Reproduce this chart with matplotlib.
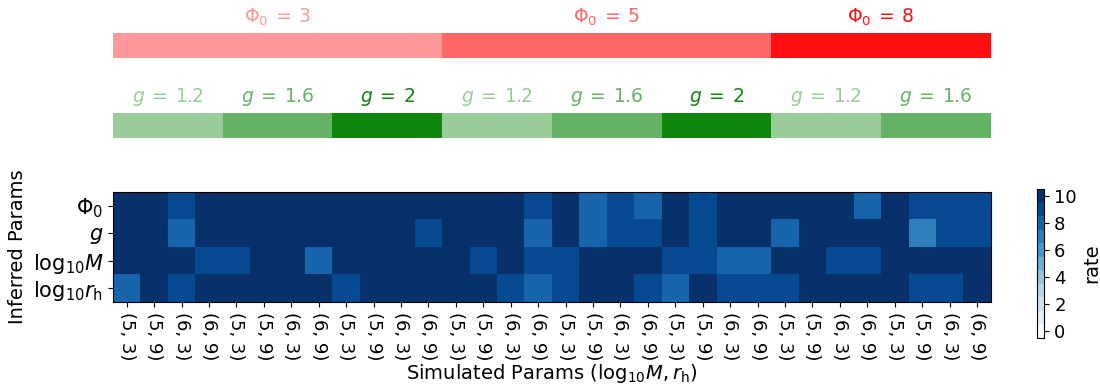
import numpy as np
import matplotlib.pyplot as plt

# parameter grid
phi0_vals = [3, 5, 8]
phi0_ngroups = [3, 3, 2]      # number of g blocks under each Phi0
g_vals = [1.2, 1.6, 2, 1.2, 1.6, 2, 1.2, 1.6]
sim_labels = ['(5, 3)', '(5, 9)', '(6, 3)', '(6, 9)'] * 8
inferred_labels = [r'$\Phi_0$', r'$g$', r'$\log_{10}\!M$', r'$\log_{10}\!r_{\rm h}$']

# recovery rate per inferred param (rows) and simulated setup (columns)
rate_phi0 = [10, 10, 9, 10, 10, 10, 10, 10, 10, 10, 10, 10, 10, 10, 10, 9,
             10, 8, 9, 8, 10, 9, 10, 10, 10, 10, 10, 8, 10, 9, 9, 9]
rate_g = [10, 10, 8, 10, 10, 10, 10, 10, 10, 10, 10, 9, 10, 10, 10, 8,
          10, 8, 9, 9, 10, 9, 10, 10, 8, 10, 10, 10, 10, 7, 9, 9]
rate_logM = [10, 10, 10, 9, 9, 10, 10, 8, 10, 10, 10, 10, 10, 9, 10, 9,
             9, 10, 10, 10, 9, 9, 8, 8, 10, 10, 9, 9, 10, 10, 10, 10]
rate_logrh = [8, 10, 9, 10, 10, 10, 10, 10, 9, 10, 10, 10, 10, 10, 9, 8,
              9, 10, 10, 9, 8, 10, 9, 9, 9, 10, 10, 10, 10, 9, 9, 10]

plt.rcParams['font.size'] = 13
alpha_of = {3: 0.4, 5: 0.6, 8: 0.94, 1.2: 0.4, 1.6: 0.6, 2: 0.94}

fig = plt.figure(figsize=(11, 3.87), dpi=100)
ncol = len(sim_labels)

# --- heatmap ---
ax = fig.add_axes([0.1027, 0.2196, 0.7979, 0.2842])
rates = np.array([rate_phi0, rate_g, rate_logM, rate_logrh])
cmap = plt.get_cmap('Blues', 11)
im = ax.imshow(rates, cmap=cmap, vmin=-0.5, vmax=10.5, aspect='auto',
               interpolation='nearest')
ax.set_xticks(range(ncol))
ax.set_xticklabels(sim_labels, rotation=-90, fontsize=13)
ax.set_yticks(range(4))
ax.set_yticklabels(inferred_labels, fontsize=15)
ax.set_xlabel(r'Simulated Params ($\log_{10}\!M, r_{\rm h}$)', fontsize=14, labelpad=1)
ax.set_ylabel('Inferred Params', fontsize=14)

cax = fig.add_axes([0.9427, 0.1266, 0.0068, 0.385])
cb = fig.colorbar(im, cax=cax, ticks=[0, 2, 4, 6, 8, 10])
cb.set_label('rate', fontsize=14)
cb.ax.tick_params(labelsize=13)

# --- Phi0 bar ---
ax_p = fig.add_axes([0.1027, 0.851, 0.7979, 0.0633])
left = -0.5
for val, n in zip(phi0_vals, phi0_ngroups):
    w = 4 * n
    ax_p.barh(0, w, left=left, height=1, color='red', alpha=alpha_of[val])
    ax_p.text(left + w / 2, 1.15, r'$\Phi_0\:=\:%g$' % val, color='red',
              alpha=alpha_of[val], ha='center', va='center', fontsize=13.5)
    left += w
ax_p.set_xlim(-0.5, ncol - 0.5)
ax_p.set_ylim(-0.5, 0.5)
ax_p.axis('off')

# --- g bar ---
ax_g = fig.add_axes([0.1027, 0.644, 0.7979, 0.0633])
for i, val in enumerate(g_vals):
    ax_g.barh(0, 4, left=4 * i - 0.5, height=1, color='green', alpha=alpha_of[val])
    ax_g.text(4 * i + 1.5, 1.18, r'$g\:=\:%g$' % val, color='green',
              alpha=alpha_of[val], ha='center', va='center', fontsize=13.5)
ax_g.set_xlim(-0.5, ncol - 0.5)
ax_g.set_ylim(-0.5, 0.5)
ax_g.axis('off')

fig.savefig('out.png', dpi=100)
